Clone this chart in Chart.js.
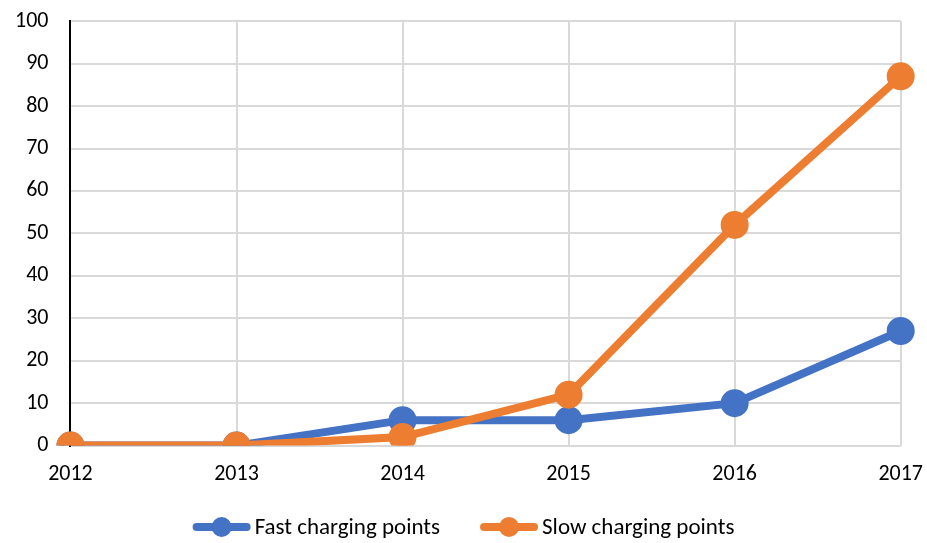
<!DOCTYPE html>
<html>
<head>
<meta charset="utf-8">
<script src="https://cdn.jsdelivr.net/npm/chart.js@4.4.0/dist/chart.umd.min.js"></script>
<style>
  html, body { margin: 0; padding: 0; background: #fff; }
  #wrap { width: 927px; height: 543px; }
</style>
</head>
<body>
<div id="wrap"><canvas id="myChart" width="927" height="543"></canvas></div>
<script>
var years = ['2012', '2013', '2014', '2015', '2016', '2017'];
var fastPoints = [0, 0, 6, 6, 10, 27];
var slowPoints = [0, 0, 2, 12, 52, 87];
var seriesNames = ['Fast charging points', 'Slow charging points'];
var colors = ['#4472C4', '#ED7D31'];

var fontFam = "Calibri, Carlito, Lato, 'Open Sans', sans-serif";

// legend drawn by hand: line with a dot, then the name
var bottomLegend = {
	id: 'bottomLegend',
	afterDraw: function(ch) {
		var c = ch.ctx;
		var y = 527;
		var markW = 58, gapText = 4, gapItem = 40;
		c.save();
		c.font = '23px ' + fontFam;
		c.textBaseline = 'middle';
		var widths = ch.data.datasets.map(function(ds) { return markW + gapText + c.measureText(ds.label).width; });
		var total = widths[0] + gapItem + widths[1];
		var x = (ch.width - total) / 2;
		ch.data.datasets.forEach(function(ds, i) {
			c.strokeStyle = colors[i];
			c.lineWidth = 8;
			c.lineCap = 'round';
			c.beginPath();
			c.moveTo(x + 4, y);
			c.lineTo(x + markW - 4, y);
			c.stroke();
			c.fillStyle = colors[i];
			c.beginPath();
			c.arc(x + markW / 2, y, 10, 0, Math.PI * 2);
			c.fill();
			c.fillStyle = '#000';
			c.textAlign = 'left';
			c.fillText(ds.label, x + markW + gapText, y + 1);
			x += widths[i] + gapItem;
		});
		c.restore();
	}
};

var ctx = document.getElementById('myChart').getContext('2d');
var chart = new Chart(ctx, {
	type: 'line',
	data: {
		labels: years,
		datasets: [{
			label: seriesNames[0],
			data: fastPoints,
			borderColor: colors[0],
			backgroundColor: colors[0],
			borderWidth: 8,
			pointRadius: 10,
			pointHoverRadius: 10,
			tension: 0,
			order: 2
		}, {
			label: seriesNames[1],
			data: slowPoints,
			borderColor: colors[1],
			backgroundColor: colors[1],
			borderWidth: 8,
			pointRadius: 10,
			pointHoverRadius: 10,
			tension: 0,
			order: 1
		}]
	},
	options: {
		responsive: false,
		animation: false,
		layout: {
			padding: { top: 0, right: 0, left: 7, bottom: 51 }
		},
		scales: {
			x: {
				offset: false,
				grid: { color: '#d9d9d9', lineWidth: 2, drawTicks: true, tickLength: 12, tickColor: 'rgba(0,0,0,0)' },
				border: { display: false },
				ticks: {
					color: '#000',
					padding: 4,
					font: { family: fontFam, size: 22 },
					maxRotation: 0,
					autoSkip: false
				}
			},
			y: {
				min: 0,
				max: 100,
				grid: { color: '#d9d9d9', lineWidth: 2, drawTicks: true, tickLength: 14, tickColor: 'rgba(0,0,0,0)' },
				border: { display: true, color: '#000', width: 2 },
				ticks: {
					stepSize: 10,
					color: '#000',
					padding: 8,
					font: { family: fontFam, size: 22 }
				}
			}
		},
		plugins: {
			tooltip: { enabled: false },
			legend: { display: false }
		}
	},
	plugins: [bottomLegend]
});
</script>
</body>
</html>
